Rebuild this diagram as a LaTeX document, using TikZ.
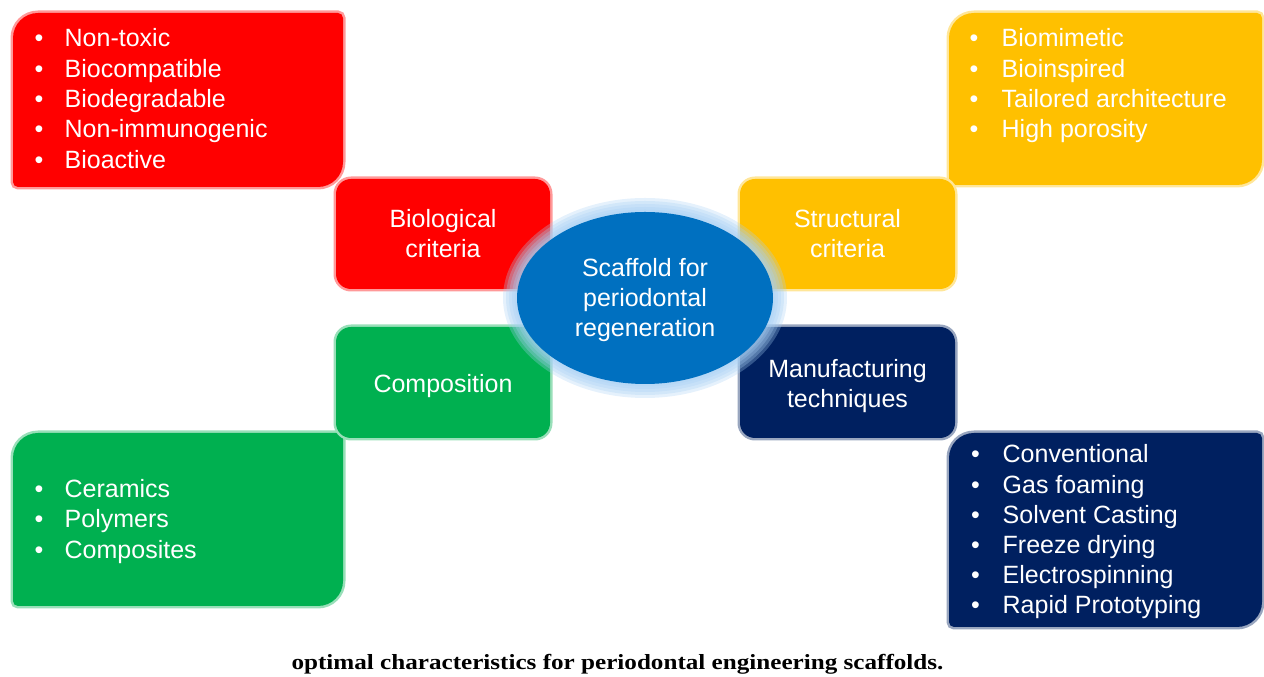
\documentclass[tikz,border=0pt]{standalone}
\usepackage{fontspec}
\setmainfont{Liberation Sans}
\newfontfamily\capfont{Liberation Serif}
\usepackage{graphicx}
\usetikzlibrary{shapes.geometric}
\definecolor{cred}{HTML}{FF0000}
\definecolor{cyel}{HTML}{FFC000}
\definecolor{cgrn}{HTML}{00B050}
\definecolor{cnavy}{HTML}{002060}
\definecolor{cblue}{HTML}{0070C0}
\definecolor{cglow}{HTML}{A8D0F4}
% #1 colour, #2 x1, #3 y1 (bottom), #4 x2, #5 y2 (top), #6 big radius, #7 small radius
\newcommand\mylistbox[7]{%
  \path[fill=#1, preaction={draw=#1!40, line width=5}]
    ({#2},{#3+#7}) -- ({#2},{#5-#6}) arc[start angle=180,end angle=90,radius=#6]
    -- ({#4-#7},{#5}) arc[start angle=90,end angle=0,radius=#7]
    -- ({#4},{#3+#6}) arc[start angle=0,end angle=-90,radius=#6]
    -- ({#2+#7},{#3}) arc[start angle=270,end angle=180,radius=#7] -- cycle;}
\tikzset{
  item/.style={anchor=base west, inner sep=0pt, text=white, font=\fontsize{25}{30}\selectfont},
  midbox/.style={rounded corners=15, fill=#1, preaction={draw=#1!40, line width=5},
    minimum width=214, minimum height=110, inner sep=0pt, text=white, align=center,
    font=\fontsize{25}{30}\selectfont},
}
\begin{document}
\begin{tikzpicture}[x=1pt,y=1pt]
\useasboundingbox (0,0) rectangle (1264,677);
% list boxes
\mylistbox{cred}{13}{490}{343}{664}{25}{5}
\mylistbox{cyel}{949}{492}{1262}{664}{25}{5}
\mylistbox{cgrn}{13}{71}{343}{244}{25}{5}
\mylistbox{cnavy}{949}{50}{1262}{244}{25}{5}
% list texts
\foreach \t [count=\i] in {Non-toxic,Biocompatible,Biodegradable,Non-immunogenic,Bioactive}
  \node[item] (bio\i) at (34.5,{630-(\i-1)*30.3}) {\makebox[30pt][l]{\textbullet}\t};
\foreach \t [count=\i] in {Biomimetic,Bioinspired,Tailored architecture,High porosity}
  \node[item] (str\i) at (969.5,{630-(\i-1)*30.3}) {\makebox[32pt][l]{\textbullet}\t};
\foreach \t [count=\i] in {Ceramics,Polymers,Composites}
  \node[item] (com\i) at (34.5,{179.5-(\i-1)*30.4}) {\makebox[30pt][l]{\textbullet}\t};
\foreach \t [count=\i] in {Conventional,Gas foaming,Solvent Casting,Freeze drying,Electrospinning,Rapid Prototyping}
  \node[item] (man\i) at (971,{214-(\i-1)*30.06}) {\makebox[31.5pt][l]{\textbullet}\t};
% middle boxes
\node[midbox=cred] (bio) at (443,443) {Biological\\criteria};
\node[midbox=cyel, minimum width=215] (str) at (847.5,443) {Structural\\criteria};
\node[midbox=cgrn, minimum height=111] (com) at (443,294.5) {\rule{0pt}{25pt}Composition};
\node[midbox=cnavy, minimum width=215, minimum height=111] (man) at (847.5,294.5) {\rule{0pt}{25pt}Manufacturing\\techniques};
% central ellipse with glow
\foreach \k in {14,11,8,5,2.5}
  \fill[cglow, opacity=0.3] (645,379) ellipse [x radius={128+\k}, y radius={86+\k}];
\node[ellipse, fill=cblue, minimum width=256, minimum height=172, inner sep=0pt] (sc) at (645,379) {};
\node[text=white, align=center, inner sep=0pt, font=\fontsize{25}{30}\selectfont] (sctext) at (645,377) {Scaffold for\\periodontal\\regeneration};
% caption
\node[anchor=base, inner sep=0pt] (cap) at (617.5,7)
  {\scalebox{1.22}[1.05]{\capfont\bfseries\fontsize{20.6}{24}\selectfont optimal characteristics for periodontal engineering scaffolds.}};
\end{tikzpicture}
\end{document}
